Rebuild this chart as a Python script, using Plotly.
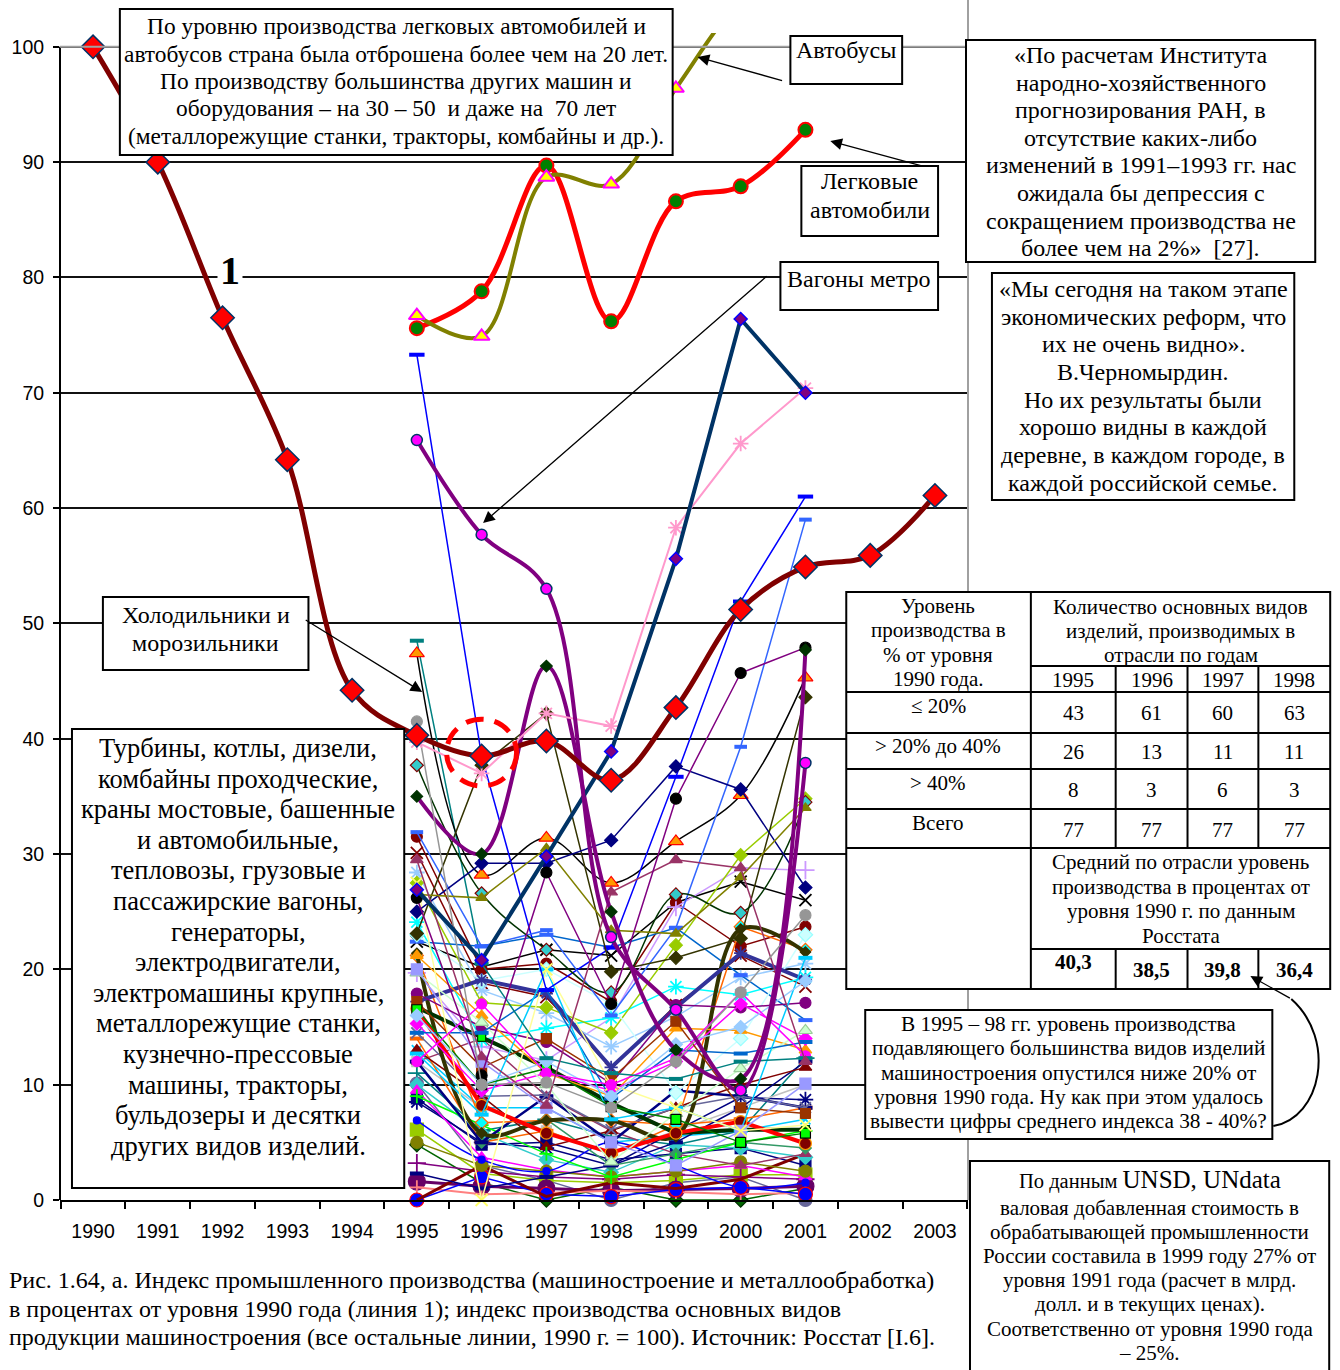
import plotly.graph_objects as go

# ---- data ----
years_all = [1990, 1991, 1992, 1993, 1994, 1995, 1996, 1997, 1998, 1999, 2000, 2001, 2002, 2003]
years_cars = [1990, 1991, 1992, 1993, 1994, 1995, 1996, 1997, 1998, 1999, 2000, 2001]
years_prod = [1995, 1996, 1997, 1998, 1999, 2000, 2001]

# line 1: machine building & metalworking index
machine_index = [100, 90, 76.5, 64.2, 44.2, 40.3, 38.5, 39.8, 36.4, 42.7, 51.2, 54.9, 55.9, 61.1]
cars = [100, None, None, None, None, 75.6, 78.8, 89.7, 76.2, 86.6, 87.9, 92.8]
buses = [100, None, None, None, None, 76.7, 74.9, 88.7, 88.1, 96.4, 104.0, 108.0]
metro_cars = [65.9, 57.7, 53.0, 22.8, 16.5, 9.5, 37.9]
navy_product = [26.9, 20.8, 29.8, 38.9, 55.6, 76.4, 70.0]
pink_product = [39.7, 37.0, 42.2, 41.1, 58.3, 65.6, 70.4]

products_upper = [
    [48.5, 20.5, 12.3, 11.0, 10.5, 12.0, 12.3],
    [47.4, 28.2, 31.4, 27.5, 31.1, 35.1, 45.3],
    [73.3, 38.5, 18.2, 21.9, 36.7, 51.9, 61.0],
    [31.9, 22.0, 23.4, 16.0, 23.6, 39.3, 59.0],
    [23.1, 37.7, 42.2, 19.8, 21.0, 22.7, 43.6],
    [37.7, 26.6, 21.7, 18.0, 26.5, 24.9, 34.5],
    [25.0, 29.2, 29.2, 31.2, 37.6, 35.6, 27.1],
    [26.5, 26.2, 30.5, 23.4, 23.1, 28.0, 34.0],
    [29.5, 12.4, 8.2, 26.7, 29.5, 28.8, 12.0],
    [26.2, 10.8, 28.4, 17.0, 34.8, 45.7, 47.9],
    [35.0, 30.0, 46.3, 25.0, 13.0, 10.5, 47.7],
    [41.5, 10.0, 10.2, 8.0, 12.0, 18.0, 24.7],
]
products_mid = [
    [22.4, 20.2, 21.7, 21.2, 25.8, 27.6, 26.0],
    [30.1, 18.8, 17.6, 11.4, 16.9, 21.2, 18.5],
    [31.5, 20.0, 20.5, 17.2, 25.8, 22.0, 23.7],
    [19.7, 13.3, 12.1, 15.8, 25.4, 28.8, 28.6],
    [28.4, 18.2, 16.2, 13.3, 15.9, 19.3, 20.5],
    [24.1, 13.9, 14.9, 15.8, 18.5, 17.8, 19.3],
    [27.5, 17.1, 16.7, 14.5, 22.1, 29.9, 34.8],
    [22.4, 22.0, 23.0, 21.9, 23.6, 19.5, 15.6],
    [23.0, 19.0, 20.0, 17.0, 9.3, 14.0, 23.0],
    [21.2, 6.7, 6.9, 6.9, 6.5, 23.7, 21.7],
    [21.4, 5.8, 6.9, 6.9, 5.5, 23.5, 21.5],
    [17.2, 19.1, 17.9, 11.5, 16.7, 21.4, 19.1],
    [16.7, 14.1, 11.5, 8.4, 5.8, 6.1, 6.1],
    [16.6, 8.2, 5.8, 4.1, 5.8, 6.8, 4.9],
    [17.9, 15.0, 13.7, 10.1, 16.9, 16.7, 17.1],
    [21.2, 16.0, 11.0, 9.0, 14.9, 14.7, 13.0],
    [15.3, 9.5, 11.0, 9.5, 12.0, 17.0, 14.0],
    [19.7, 15.4, 10.0, 3.3, 7.5, 11.4, 14.7],
    [14.5, 14.5, 18.2, 8.8, 13.0, 12.7, 13.7],
    [17.2, 11.5, 14.0, 10.5, 15.5, 8.0, 7.5],
    [12.7, 7.4, 20.0, 7.0, 8.0, 6.0, 21.0],
    [20.0, 12.0, 8.0, 5.0, 3.0, 6.0, 10.1],
    [16.5, 10.0, 11.4, 8.1, 7.0, 5.0, 5.8],
    [27.5, 0.0, 20.0, 10.0, 8.0, 6.0, 6.5],
    [16.0, 10.0, 12.0, 9.0, 13.5, 15.0, 19.0],
    [12.0, 17.0, 11.0, 10.0, 12.3, 18.0, 12.5],
]
products_low = [
    [11.0, 6.0, 7.0, 5.5, 4.8, 6.0, 12.3],
    [10.1, 3.0, 1.7, 0.0, 1.5, 2.0, 0.0],
    [8.8, 4.8, 5.0, 3.5, 4.0, 4.5, 3.0],
    [8.5, 5.0, 4.5, 3.0, 6.0, 8.9, 8.7],
    [6.1, 2.3, 1.7, 1.5, 1.7, 2.2, 2.2],
    [4.8, 1.5, 0.0, 1.1, 0.0, 0.0, 1.0],
    [3.2, 2.5, 2.0, 1.8, 2.2, 2.0, 1.8],
    [1.6, 1.2, 1.0, 0.8, 0.9, 1.0, 1.2],
    [1.1, 0.5, 0.6, 0.8, 0.7, 0.5, 0.6],
    [0.0, 2.0, 0.5, 0.3, 0.9, 1.1, 0.5],
    [0.0, 3.0, 0.3, 1.5, 1.0, 1.8, 4.0],
    [10.0, 5.8, 3.5, 2.4, 4.8, 4.5, 3.7],
    [9.5, 3.7, 2.6, 2.0, 2.5, 3.0, 2.0],
    [12.0, 8.0, 6.0, 4.0, 6.0, 8.0, 10.0],
    [5.0, 3.0, 2.5, 2.0, 2.5, 3.3, 2.5],
    [13.0, 8.0, 8.0, 5.0, 5.5, 6.0, 7.0],
    [12.0, 14.0, 9.0, 6.0, 4.0, 3.0, 4.0],
    [6.9, 3.5, 2.5, 5.0, 3.0, 1.1, 1.5],
    [14.0, 5.0, 6.0, 4.0, 6.5, 7.0, 8.0],
    [12.0, 5.0, 7.0, 3.0, 4.0, 5.0, 4.5],
    [2.3, 1.0, 2.0, 3.0, 5.0, 8.0, 12.0],
    [13.0, 9.0, 4.6, 6.0, 8.0, 10.0, 11.5],
    [9.0, 6.5, 4.0, 2.0, 3.5, 5.0, 6.0],
    [12.0, 5.0, 9.0, 5.0, 9.5, 9.0, 8.0],
    [14.5, 9.0, 9.1, 6.1, 8.0, 9.0, 8.0],
]

# table data
table_years = ["1995", "1996", "1997", "1998"]
table_levels = ["≤ 20%", "> 20% до 40%", "> 40%", "Всего"]
count_le20 = [43, 61, 60, 63]
count_20_40 = [26, 13, 11, 11]
count_gt40 = [8, 3, 6, 3]
count_total = [77, 77, 77, 77]
avg_index = ["40,3", "38,5", "39,8", "36,4"]

# ---- styles (line colour, line width, marker symbol, fill, edge, size, smooth) ----
styles_upper = [
    ("#008080", 1.5, "line-ew-open", "#008080", "#008080", 10, False),
    ("#000000", 1.5, "triangle-up", "#FF9900", "#FF0000", 13, True),
    ("#0000FF", 1.5, "line-ew-open", "#0000FF", "#0000FF", 11, False),
    ("#3366FF", 1.5, "line-ew-open", "#3366FF", "#3366FF", 9, False),
    ("#333300", 1.5, "diamond", "#333300", "#333300", 10, False),
    ("#003300", 1.5, "diamond", "#33CCCC", "#800000", 10, True),
    ("#000080", 1.5, "diamond", "#000080", "#000080", 10, False),
    ("#808000", 1.5, "triangle-up", "#808000", "#808000", 10, False),
    ("#993366", 1.5, "triangle-up", "#993366", "#993366", 11, False),
    ("#800080", 1.5, "circle", "#000000", "#000000", 11, False),
    ("#800080", 4, "diamond", "#003300", "#003300", 9, True),
    ("#969696", 1.5, "circle", "#969696", "#969696", 11, False),
]
styles_mid = [
    ("#000000", 1.5, "x-thin-open", "#000000", "#000000", 12, False),
    ("#800000", 1.5, "x-thin-open", "#800000", "#800000", 12, False),
    ("#800000", 1.5, "circle", "#800000", "#800000", 11, False),
    ("#CC99FF", 1.5, "cross-thin-open", "#CC99FF", "#CC99FF", 13, False),
    ("#99CCFF", 1.5, "asterisk-open", "#99CCFF", "#99CCFF", 13, False),
    ("#00FFFF", 1.5, "asterisk-open", "#00FFFF", "#00FFFF", 13, False),
    ("#99CC00", 1.5, "diamond", "#99CC00", "#99CC00", 10, False),
    ("#0066CC", 1.5, "line-ew-open", "#3366FF", "#3366FF", 10, False),
    ("#CCFFFF", 1.5, "diamond", "#CCFFFF", "#99FFFF", 11, False),
    ("#FF6600", 1.5, "diamond", "#00FFFF", "#FF6600", 10, False),
    ("#333300", 4, "diamond", "#333300", "#333300", 8, True),
    ("#333399", 4, "asterisk-open", "#333399", "#333399", 11, False),
    ("#003300", 4, "square", "#00FF00", "#003300", 8, False),
    ("#FF0000", 4, "circle", "#800000", "#FF9900", 12, False),
    ("#800080", 1.5, "circle", "#800080", "#800080", 11, False),
    ("#FF9900", 1.5, "triangle-up", "#FF9900", "#FF9900", 11, False),
    ("#FF00FF", 1.5, "diamond", "#FF00FF", "#FF00FF", 10, False),
    ("#CCFFCC", 1.5, "triangle-up", "#CCFFCC", "#99CC99", 12, False),
    ("#0066CC", 1.5, "line-ew-open", "#0066CC", "#0066CC", 10, False),
    ("#993300", 1.5, "square", "#993300", "#993300", 10, False),
    ("#00CCFF", 1.5, "line-ew-open", "#00CCFF", "#00CCFF", 10, False),
    ("#9999FF", 1.5, "square", "#9999FF", "#9999FF", 11, False),
    ("#008000", 1.5, "square", "#00FF00", "#000000", 10, False),
    ("#FFFF99", 1.5, "x-thin-open", "#FFFF66", "#FFFF66", 12, False),
    ("#99CCFF", 1.5, "diamond", "#99CCFF", "#99CCFF", 10, False),
    ("#FF00FF", 1.5, "circle", "#FF00FF", "#FF00FF", 10, False),
]
styles_low = [
    ("#008080", 1.5, "cross-thin-open", "#008080", "#008080", 13, False),
    ("#666699", 1.5, "circle", "#666699", "#666699", 13, False),
    ("#000080", 1.5, "square", "#000080", "#000080", 11, False),
    ("#000080", 1.5, "asterisk-open", "#000080", "#000080", 13, False),
    ("#99CC00", 1.5, "square", "#99CC00", "#99CC00", 13, False),
    ("#006600", 1.5, "diamond", "#006600", "#003300", 11, False),
    ("#800080", 1.5, "cross-thin-open", "#800080", "#800080", 13, False),
    ("#660066", 3, "circle", "#660066", "#660066", 17, False),
    ("#FF8080", 2, "cross-thin-open", "#FF8080", "#FF8080", 10, False),
    ("#0000FF", 1.5, "circle", "#0000FF", "#FF0000", 14, False),
    ("#800000", 3, None, None, None, 0, False),
    ("#33CCCC", 1.5, "diamond", "#33CCCC", "#33CCCC", 11, False),
    ("#FF00FF", 1.5, "triangle-up", "#FF00FF", "#FF00FF", 11, False),
    ("#C0C0C0", 1.5, "square", "#C0C0C0", "#C0C0C0", 10, False),
    ("#808000", 1.5, "circle", "#808000", "#808000", 12, False),
    ("#00CCFF", 1.5, "x-thin-open", "#00CCFF", "#00CCFF", 10, False),
    ("#993366", 1.5, "triangle-up", "#993366", "#993366", 10, False),
    ("#0000FF", 1.5, "circle", "#0000FF", "#0000FF", 7, True),
    ("#FF6600", 1.5, "line-ew-open", "#FF6600", "#FF6600", 10, False),
    ("#339966", 1.5, "diamond", "#339966", "#339966", 9, False),
    ("#000080", 1.5, "line-ew-open", "#000080", "#000080", 10, False),
    ("#800000", 1.5, "triangle-up", "#800000", "#800000", 11, False),
    ("#00FF00", 1.5, "cross-thin-open", "#00FF00", "#00FF00", 10, False),
    ("#000080", 2.5, "line-ew-open", "#000080", "#000080", 10, False),
    ("#666699", 1.5, "x-thin-open", "#666699", "#666699", 11, False),
]

# plot area in page pixels
L, R, T, B = 58, 968, 33, 1200
SERIF = "'Liberation Serif', 'Times New Roman', Times, serif"
SANS = "'Liberation Sans', Arial, sans-serif"


def xp(px):
    return (px - L) / (R - L)


def yp(py):
    return (B - py) / (B - T)


fig = go.Figure()


def add_product(vals, st):
    color, width, symbol, fill, edge, size, smooth = st
    if symbol is None:
        marker = dict(size=0)
        mode = "lines"
    elif symbol.endswith("-open"):
        lw = 4 if symbol.startswith("line") else 1.8
        marker = dict(symbol=symbol, size=size, color=edge, line=dict(color=edge, width=lw))
        mode = "lines+markers"
    else:
        marker = dict(symbol=symbol, size=size, color=fill, line=dict(color=edge, width=1.2))
        mode = "lines+markers"
    fig.add_trace(go.Scatter(
        x=years_prod, y=vals, mode=mode,
        line=dict(color=color, width=width, shape="spline" if smooth else "linear"),
        marker=marker, cliponaxis=False, hoverinfo="skip",
    ))


for vals, st in zip(products_low, styles_low):
    add_product(vals, st)
for vals, st in zip(products_mid, styles_mid):
    add_product(vals, st)
for vals, st in zip(products_upper, styles_upper):
    add_product(vals, st)

fig.add_trace(go.Scatter(
    x=years_prod, y=pink_product, mode="lines+markers",
    line=dict(color="#FF99CC", width=2),
    marker=dict(symbol="asterisk-open", size=13, color="#FF99CC", line=dict(color="#FF99CC", width=1.8)),
    cliponaxis=False,
))
fig.add_trace(go.Scatter(
    x=years_prod, y=navy_product, mode="lines+markers",
    line=dict(color="#003366", width=4),
    marker=dict(symbol="diamond", size=10, color="#800080", line=dict(color="#0000FF", width=1.5)),
    cliponaxis=False,
))
fig.add_trace(go.Scatter(
    x=years_prod, y=metro_cars, mode="lines+markers",
    line=dict(color="#800080", width=4, shape="spline"),
    marker=dict(symbol="circle", size=11, color="#FF00FF", line=dict(color="#003366", width=1.5)),
    cliponaxis=False,
))
fig.add_trace(go.Scatter(
    x=years_cars, y=cars, mode="lines+markers", connectgaps=False,
    line=dict(color="#FF0000", width=5, shape="spline"),
    marker=dict(symbol="circle", size=14, color="#008000", line=dict(color="#FF0000", width=2)),
))
fig.add_trace(go.Scatter(
    x=years_cars, y=buses, mode="lines+markers", connectgaps=False,
    line=dict(color="#808000", width=4, shape="spline"),
    marker=dict(symbol="triangle-up", size=14, color="#FFFF00", line=dict(color="#FF00FF", width=2)),
))
fig.add_trace(go.Scatter(
    x=years_all, y=machine_index, mode="lines+markers",
    line=dict(color="#800000", width=5, shape="spline"),
    marker=dict(symbol="diamond", size=18, color="#FF0000", line=dict(color="#003366", width=1.5)),
    cliponaxis=False,
))

fig.update_layout(
    width=1340, height=1370,
    margin=dict(l=L, r=1340 - R, t=T, b=1370 - B),
    paper_bgcolor="white", plot_bgcolor="white",
    showlegend=False, hovermode=False,
    xaxis=dict(
        range=[1989.49, 2003.51], tickmode="array", tickvals=years_all,
        ticks="", showgrid=False, zeroline=False,
        showline=True, linecolor="black", linewidth=2,
        tickfont=dict(family=SANS, size=19.5, color="black"),
        ticklabelstandoff=13,
        minor=dict(tickmode="array", tickvals=[y - 0.5 for y in years_all] + [2003.5],
                   ticks="outside", ticklen=7, tickwidth=2, tickcolor="black", showgrid=False),
    ),
    yaxis=dict(
        range=[0, 101.2], tickmode="array", tickvals=[0, 10, 20, 30, 40, 50, 60, 70, 80, 90, 100],
        ticks="outside", ticklen=6, tickwidth=2, tickcolor="black",
        showgrid=True, gridcolor="#111111", gridwidth=2, zeroline=False, showline=False,
        tickfont=dict(family=SANS, size=19.5, color="black"),
        ticklabelstandoff=5,
    ),
)

# axis line, grey top line and grey right border
fig.add_shape(type="line", xref="paper", yref="y", x0=0, x1=0, y0=0, y1=100,
              line=dict(color="black", width=2))
fig.add_shape(type="line", xref="paper", yref="y", x0=0, x1=1, y0=100, y1=100,
              line=dict(color="#A0A0A0", width=2))
fig.add_shape(type="line", xref="paper", yref="paper", x0=1, x1=1, y0=yp(0), y1=0,
              line=dict(color="#A0A0A0", width=2))

# dashed highlight round the 1996 point
cy = machine_index[years_all.index(1996)]
fig.add_shape(type="circle", xref="x", yref="y", x0=1996 - 0.54, x1=1996 + 0.54,
              y0=cy - 2.6, y1=cy + 3.2, line=dict(color="#FF0000", width=5, dash="18px,11px"),
              layer="above")


def label(text, x, y, size, bold=False, anchor="center"):
    fig.add_annotation(
        xref="paper", yref="paper", x=xp(x), y=yp(y), xanchor=anchor, yanchor="middle",
        text=f"<b>{text}</b>" if bold else text, showarrow=False,
        font=dict(family=SERIF, size=size, color="black"),
    )


def rect(x0, y0, x1, y1, width=2):
    fig.add_shape(type="rect", xref="paper", yref="paper", x0=xp(x0), x1=xp(x1),
                  y0=yp(y0), y1=yp(y1), fillcolor="white",
                  line=dict(color="black", width=width), layer="above")


def textbox(lines, x0, y0, x1, y1, size, first, step):
    rect(x0, y0, x1, y1)
    for i, t in enumerate(lines):
        label(t, (x0 + x1) / 2, first + i * step, size)


def arrow(tx, ty, hx, hy):
    fig.add_annotation(
        xref="paper", yref="paper", x=xp(hx), y=yp(hy), ax=tx - hx, ay=ty - hy,
        text="", showarrow=True, arrowhead=2, arrowsize=1.8, arrowwidth=1.3, arrowcolor="black",
    )


arrow(783, 81, 697, 57)
arrow(922, 166, 830, 141)
arrow(767, 275, 482, 523)
arrow(303, 619, 421, 692)

textbox(["По уровню производства легковых автомобилей и",
         "автобусов страна была отброшена более чем на 20 лет.",
         "По производству большинства других машин и",
         "оборудования – на 30 – 50  и даже на  70 лет",
         "(металлорежущие станки, тракторы, комбайны и др.)."],
        118, 9, 672, 155, 23.4, 26, 27.5)
textbox(["Автобусы"], 790, 36, 902, 84, 24, 50, 0)
textbox(["Легковые", "автомобили"], 801, 166, 938, 236, 24, 181, 29)
textbox(["Вагоны метро"], 780, 262, 938, 310, 24, 279, 0)
textbox(["«По расчетам Института",
         "народно-хозяйственного",
         "прогнозирования РАН, в",
         "отсутствие каких-либо",
         "изменений в 1991–1993 гг. нас",
         "ожидала бы депрессия с",
         "сокращением производства не",
         "более чем на 2%»  [27]."],
        966, 40, 1316, 262, 24, 55, 27.6)
textbox(["«Мы сегодня на таком этапе",
         "экономических реформ, что",
         "их не очень видно».",
         "В.Черномырдин.",
         "Но их результаты были",
         "хорошо видны в каждой",
         "деревне, в каждом городе, в",
         "каждой российской семье."],
        992, 273, 1295, 500, 24, 289, 27.7)
textbox(["Холодильники и", "морозильники"], 101, 597, 307, 670, 24, 615, 28)
textbox(["Турбины, котлы, дизели,",
         "комбайны проходческие,",
         "краны мостовые, башенные",
         "и автомобильные,",
         "тепловозы, грузовые и",
         "пассажирские вагоны,",
         "генераторы,",
         "электродвигатели,",
         "электромашины крупные,",
         "металлорежущие станки,",
         "кузнечно-прессовые",
         "машины, тракторы,",
         "бульдозеры и десятки",
         "других видов изделий."],
        70, 729, 403, 1188, 26.5, 748, 30.6)
textbox(["В 1995 – 98 гг. уровень производства",
         "подавляющего большинства видов изделий",
         "машиностроения опустился ниже 20% от",
         "уровня 1990 года. Ну как при этом удалось",
         "вывести цифры среднего индекса 38 - 40%?"],
        865, 1010, 1273, 1139, 21.3, 1024, 24.3)

# bottom-right note: first line has a larger part
rect(970, 1161, 1330, 1380)
label("По данным <span style='font-size:25px'>UNSD, UNdata</span>", 1150, 1179, 20.5)
unsd_lines = ["валовая добавленная стоимость в",
              "обрабатывающей промышленности",
              "России составила в 1999 году 27% от",
              "уровня 1991 года (расчет в млрд.",
              "долл. и в текущих ценах).",
              "Соответственно от уровня 1990 года",
              "– 25%."]
for i, t in enumerate(unsd_lines):
    label(t, 1150, 1208 + i * 24.1, 21)

# label of line 1
fig.add_annotation(xref="paper", yref="paper", x=xp(228), y=yp(270), xanchor="center",
                   yanchor="middle", text="<b>1</b>", showarrow=False, bgcolor="white",
                   borderpad=2, font=dict(family=SERIF, size=40, color="black"))

# ---- table ----
tx0, tx1, ty0, ty1 = 846, 1331, 592, 989
col_split = 1031
year_cols = [1031, 1116, 1188, 1259, 1331]
rect(tx0, ty0, tx1, ty1)
hlines = [(col_split, 666), (tx0, 692), (tx0, 733), (tx0, 769), (tx0, 809), (tx0, 848),
          (col_split, 949)]
for x_start, yy in hlines:
    fig.add_shape(type="line", xref="paper", yref="paper", x0=xp(x_start), x1=xp(tx1),
                  y0=yp(yy), y1=yp(yy), line=dict(color="black", width=2), layer="above")
fig.add_shape(type="line", xref="paper", yref="paper", x0=xp(col_split), x1=xp(col_split),
              y0=yp(ty0), y1=yp(ty1), line=dict(color="black", width=2), layer="above")
for xc in year_cols[1:-1]:
    for ya, yb in [(666, 848), (949, 989)]:
        fig.add_shape(type="line", xref="paper", yref="paper", x0=xp(xc), x1=xp(xc),
                      y0=yp(ya), y1=yp(yb), line=dict(color="black", width=2), layer="above")

TS = 21
for i, t in enumerate(["Уровень", "производства в", "% от уровня", "1990 года."]):
    label(t, 938, 606 + i * 24.4, TS)
for i, t in enumerate(["Количество основных видов", "изделий, производимых в", "отрасли по годам"]):
    label(t, 1181, 607 + i * 24.2, TS)
col_centers = [(year_cols[i] + year_cols[i + 1]) / 2 for i in range(4)]
for xc, yr in zip(col_centers, table_years):
    label(yr, xc, 680, TS)
row_y = [(706, 713), (746, 752), (783, 790), (823, 830)]
for (ly, vy), name, counts in zip(row_y, table_levels,
                                  [count_le20, count_20_40, count_gt40, count_total]):
    label(name, 938, ly, TS)
    for xc, c in zip(col_centers, counts):
        label(str(c), xc, vy, TS)
for i, t in enumerate(["Средний по отрасли уровень", "производства в процентах от",
                       "уровня 1990 г. по данным", "Росстата"]):
    label(t, 1181, 862 + i * 24.6, TS)
for k, (xc, v) in enumerate(zip(col_centers, avg_index)):
    label(v, xc, 962 if k == 0 else 970, TS, bold=True)

# curved pointer from the note to the table
c = [(1274, 1126), (1322, 1118), (1338, 1040), (1292, 999)]
path = "M {},{} C {},{} {},{} {},{}".format(
    xp(c[0][0]), yp(c[0][1]), xp(c[1][0]), yp(c[1][1]),
    xp(c[2][0]), yp(c[2][1]), xp(c[3][0]), yp(c[3][1]))
fig.add_shape(type="path", xref="paper", yref="paper", path=path,
              line=dict(color="black", width=2), layer="above")
arrow(1292, 999, 1251, 976)

# caption
caption = ["Рис. 1.64, а. Индекс промышленного производства (машиностроение и металлообработка)",
           "в процентах от уровня 1990 года (линия 1); индекс производства основных видов",
           "продукции машиностроения (все остальные линии, 1990 г. = 100). Источник: Росстат [I.6]."]
for i, t in enumerate(caption):
    label(t, 5, 1280 + i * 28.5, 24, anchor="left")

fig.write_html("out.html", config={"displayModeBar": False},
               post_script="document.body.style.margin='0';")
